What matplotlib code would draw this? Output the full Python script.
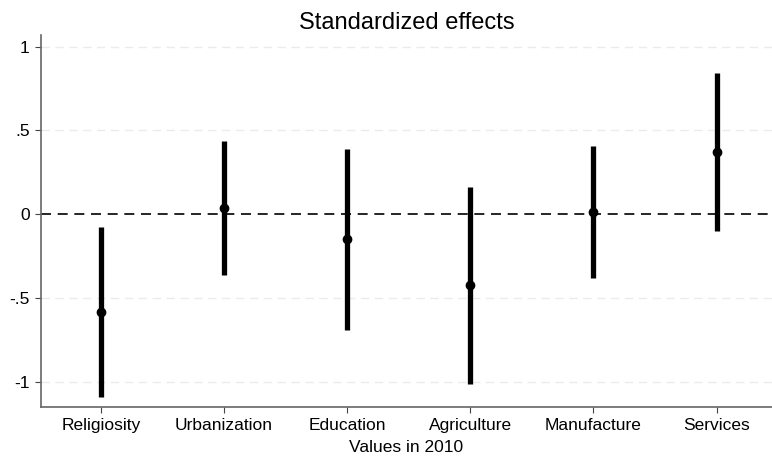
import matplotlib
matplotlib.use("Agg")
import matplotlib.pyplot as plt

categories = ["Religiosity", "Urbanization", "Education", "Agriculture", "Manufacture", "Services"]
estimates = [-0.58, 0.04, -0.15, -0.42, 0.014, 0.37]
ci_low = [-1.09, -0.36, -0.69, -1.01, -0.38, -0.10]
ci_high = [-0.075, 0.435, 0.39, 0.163, 0.407, 0.84]

plt.rcParams['font.family'] = ['Liberation Sans', 'DejaVu Sans']

fig = plt.figure(figsize=(7.72, 4.59), dpi=100)
ax = fig.add_axes([0.053, 0.113, 0.947, 0.811])

xs = list(range(1, len(categories) + 1))

# light grid at the y ticks
for yv in [-1, -0.5, 0.5, 1]:
    ax.axhline(yv, color="#ebebeb", lw=1.0, ls=(0, (6, 4)), zorder=0)
ax.axhline(0, color="black", lw=1.2, ls=(0, (6, 4)), zorder=1)

ax.vlines(xs, ci_low, ci_high, color="black", lw=3.8, zorder=2)
ax.plot(xs, estimates, "o", color="black", ms=6, zorder=3)

ax.set_xlim(0.513, 6.45)
ax.set_ylim(-1.15, 1.07)
ax.set_xticks(xs)
ax.set_xticklabels(categories, fontsize=12.5)
ax.set_yticks([-1, -0.5, 0, 0.5, 1])
ax.set_yticklabels(["-1", "-.5", "0", ".5", "1"], fontsize=12.5)
ax.set_xlabel("Values in 2010", fontsize=12.5, labelpad=5)
ax.set_title("Standardized effects", fontsize=17, pad=4)

for s in ["top", "right"]:
    ax.spines[s].set_visible(False)
for s in ["left", "bottom"]:
    ax.spines[s].set_color("#666666")
    ax.spines[s].set_linewidth(1.2)
ax.tick_params(axis="both", direction="out", length=4, width=0.8, color="#444444", pad=4)

fig.savefig("out.png", dpi=100)
